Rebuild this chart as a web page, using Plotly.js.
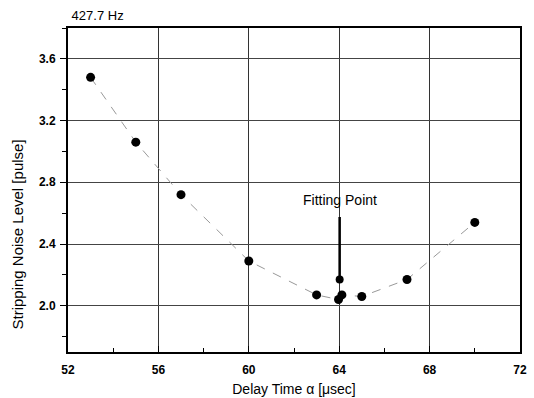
<!DOCTYPE html>
<html>
<head>
<meta charset="utf-8">
<script src="https://cdn.plot.ly/plotly-3.0.1.min.js"></script>
<style>html,body{margin:0;padding:0;background:#fff;}#chart{width:534px;height:398px;}</style>
</head>
<body>
<div id="chart"></div>
<script>
// Data
var delayTime = [53, 55, 57, 60, 63, 63.97, 64.12, 65, 67, 70];
var noiseLevel = [3.48, 3.06, 2.72, 2.29, 2.07, 2.04, 2.07, 2.06, 2.17, 2.54];
var fitX = [64.02];
var fitY = [2.17];
var xTicks = [52, 56, 60, 64, 68, 72];
var yTicks = [2.0, 2.4, 2.8, 3.2, 3.6];
var yTickText = ['2.0', '2.4', '2.8', '3.2', '3.6'];
var chartTitle = '427.7 Hz';
var fitLabel = 'Fitting Point';
var xTitle = 'Delay Time α [μsec]';
var yTitle = 'Stripping Noise Level [pulse]';

var FONT = 'Liberation Sans, Arial, sans-serif';

var traces = [
  {
    x: delayTime, y: noiseLevel, type: 'scatter', mode: 'lines+markers',
    line: {color: '#999', width: 1, dash: 'dash'},
    marker: {color: '#000', size: 9}, hoverinfo: 'skip'
  },
  {
    x: fitX, y: fitY, type: 'scatter', mode: 'markers',
    marker: {color: '#000', size: 8}, hoverinfo: 'skip'
  }
];

var layout = {
  width: 534, height: 398,
  margin: {l: 68, r: 14, t: 28, b: 46},
  paper_bgcolor: '#fff', plot_bgcolor: '#fff',
  showlegend: false,
  font: {family: FONT, color: '#000'},
  title: {text: chartTitle, x: 0.008, xref: 'paper', xanchor: 'left', y: 0.972, yanchor: 'top',
          font: {size: 13, color: '#000'}},
  xaxis: {
    range: [52, 72], tickvals: xTicks, ticktext: xTicks.map(String),
    ticks: 'inside', ticklen: 6, tickwidth: 1, tickcolor: '#000',
    minor: {dtick: 2, ticks: 'inside', ticklen: 4, tickcolor: '#000', showgrid: false},
    showgrid: true, gridcolor: '#333', gridwidth: 1,
    showline: true, linecolor: '#000', linewidth: 2, mirror: true,
    zeroline: false, ticklabelstandoff: 6,
    tickfont: {size: 12, family: FONT, weight: 700},
    title: {text: xTitle, font: {size: 14}, standoff: 8}
  },
  yaxis: {
    range: [1.7, 3.8], tickvals: yTicks, ticktext: yTickText,
    ticks: 'outside', ticklen: 6, tickwidth: 1, tickcolor: '#000',
    minor: {dtick: 0.2, ticks: 'outside', ticklen: 4, tickcolor: '#000', showgrid: false},
    showgrid: true, gridcolor: '#444', gridwidth: 1,
    showline: true, linecolor: '#000', linewidth: 2, mirror: true,
    zeroline: false, ticklabelstandoff: 2,
    tickfont: {size: 12, family: FONT, weight: 700}
  },
  annotations: [
    {
      x: fitX[0], y: fitY[0], xref: 'x', yref: 'y',
      text: fitLabel, showarrow: true, arrowhead: 0, arrowwidth: 2.5, arrowcolor: '#000',
      ax: 0, ay: -79, startstandoff: 7, standoff: 0, font: {size: 14, color: '#000'}
    },
    {
      x: -0.111, y: 0.362, xref: 'paper', yref: 'paper', xanchor: 'center', yanchor: 'middle',
      text: yTitle, showarrow: false, textangle: -90, font: {size: 15, color: '#000'}
    }
  ]
};

Plotly.newPlot('chart', traces, layout, {displayModeBar: false, staticPlot: true});
</script>
</body>
</html>
